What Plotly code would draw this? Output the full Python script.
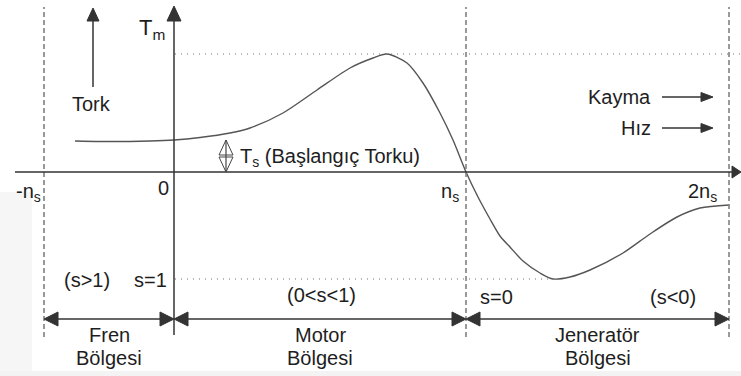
import plotly.graph_objects as go

# Landmark speeds on the schematic speed axis (drawing units)
speed_marks = [-130, 0, 292, 555]
speed_mark_labels = ["-n<sub>s</sub>", "0", "n<sub>s</sub>", "2n<sub>s</sub>"]

# Torque-speed characteristic of the induction machine
speed = [-99, -74, -24, 0, 26, 56, 76, 109, 143, 176, 199, 213, 233, 249, 266,
         279, 292, 304, 316, 326, 336, 349, 366, 379, 396, 416, 449, 476, 503, 526, 555]
torque = [31, 30.5, 31, 32, 34.5, 39, 44, 59, 82, 104, 114, 118, 109, 89, 59,
          32, 0, -25, -47, -64, -75, -89, -101, -107, -105, -98, -81, -62, -45, -36, -33]

T_MAX = 118      # breakdown torque (motoring)
T_MIN = -107     # breakdown torque (generating)
T_START = 32     # starting torque

# Operating regions: (start speed, end speed, name)
regions = [(-130, 0, "Fren"), (0, 292, "Motor"), (292, 555, "Jeneratör")]
slip_labels = [("(s>1)", -87, -108), ("s=1", -24, -108), ("(0<s<1)", 147, -123),
               ("s=0", 322, -125), ("(s<0)", 499, -125)]

X_RANGE = [-174, 567]
Y_RANGE = [-204, 172]

FONT = "Liberation Sans, Arial, sans-serif"
TXT = "#1e1e1e"
AX = "#333333"

fig = go.Figure()
fig.add_trace(go.Scatter(x=speed, y=torque, mode="lines",
                         line=dict(color="#555555", width=1.4, shape="spline", smoothing=0.8),
                         hoverinfo="skip", showlegend=False))

shapes = []


def line(x0, y0, x1, y1, color=AX, width=1.5, dash="solid", layer="above"):
    shapes.append(dict(type="line", x0=x0, y0=y0, x1=x1, y1=y1, xref="x", yref="y",
                       layer=layer, line=dict(color=color, width=width, dash=dash)))


def head(tx, ty, direction, length, half, color=AX, fill=True):
    # triangular arrowhead with its tip at (tx, ty)
    dx, dy = {"right": (-1, 0), "left": (1, 0), "up": (0, -1), "down": (0, 1)}[direction]
    bx, by = tx + dx * length, ty + dy * length
    px, py = -dy * half, dx * half
    path = f"M{tx},{ty} L{bx + px},{by + py} L{bx - px},{by - py} Z"
    shapes.append(dict(type="path", path=path, xref="x", yref="y", layer="above",
                       fillcolor=color if fill else "rgba(0,0,0,0)",
                       line=dict(color=color, width=1)))


# faint background tint at the lower-left edge and bottom
shapes.append(dict(type="rect", x0=X_RANGE[0], x1=X_RANGE[0] + 32, y0=-199, y1=-20,
                   xref="x", yref="y", layer="below", fillcolor="#f6f6f6", line=dict(width=0)))
shapes.append(dict(type="rect", x0=X_RANGE[0], x1=X_RANGE[1], y0=Y_RANGE[0], y1=Y_RANGE[0] + 5,
                   xref="x", yref="y", layer="below", fillcolor="#f3f3f3", line=dict(width=0)))

# breakdown torque guide lines
line(1, T_MAX, X_RANGE[1], T_MAX, color="#707070", width=1.2, dash="1px,5px")
line(1, T_MIN, 379, T_MIN, color="#707070", width=1.2, dash="1px,5px")

# dashed markers at -ns, ns, 2ns
for sx in [speed_marks[0], speed_marks[2], speed_marks[3]]:
    line(sx, -165, sx, 165, color="#808080", width=1.6, dash="5px,3px")

# speed axis
line(X_RANGE[0] + 15, 0, X_RANGE[1] - 4, 0)
head(X_RANGE[1], 0, "right", 9, 6)
# torque axis
line(0, -163, 0, 152)
head(0, 166, "up", 15, 7)

# "Tork" direction arrow
line(-81, 85, -81, 152)
head(-81, 164, "up", 13, 6)

# starting torque indicator (hollow double arrow)
line(52, 0, 52, T_START, color="#444444", width=1.2)
head(52, T_START, "up", 15, 7, color="#444444", fill=False)
head(52, 0, "down", 15, 7, color="#444444", fill=False)

# Kayma / Hız direction arrows
for yy in [75, 44]:
    line(488, yy, 530, yy)
    head(539, yy, "right", 12, 4.5)

# region arrows
for x0, x1, _ in regions:
    line(x0 + 6, -147, x1 - 6, -147)
    head(x0, -147, "left", 14, 7)
    head(x1, -147, "right", 14, 7)

annotations = []


def text(t, x, y, size=20, xanchor="center", yanchor="middle"):
    annotations.append(dict(text=t, x=x, y=y, xref="x", yref="y", showarrow=False,
                            xanchor=xanchor, yanchor=yanchor,
                            font=dict(family=FONT, size=size, color=TXT)))


text("T<sub>m</sub>", -22, 143, size=22)
label_pos = [(-146, -20), (-11, -16), (276, -20), (528, -20)]
for lab, (lx, ly) in zip(speed_mark_labels, label_pos):
    text(lab, lx, ly)

text("Tork", -83, 68)
text("T<sub>s</sub> (Başlangıç Torku)", 64, 15, xanchor="left")
text("Kayma", 479, 75, xanchor="right")
text("Hız", 479, 44, xanchor="right")

for lab, lx, ly in slip_labels:
    text(lab, lx, ly)

for x0, x1, name in regions:
    cx = (x0 + x1) / 2
    text(name, cx, -163)
    text("Bölgesi", cx, -186)

fig.update_layout(
    width=741, height=376,
    margin=dict(l=0, r=0, t=0, b=0),
    paper_bgcolor="white", plot_bgcolor="white",
    xaxis=dict(range=X_RANGE, visible=False, fixedrange=True),
    yaxis=dict(range=Y_RANGE, visible=False, fixedrange=True),
    shapes=shapes, annotations=annotations, showlegend=False,
)

fig.write_html("out.html")
